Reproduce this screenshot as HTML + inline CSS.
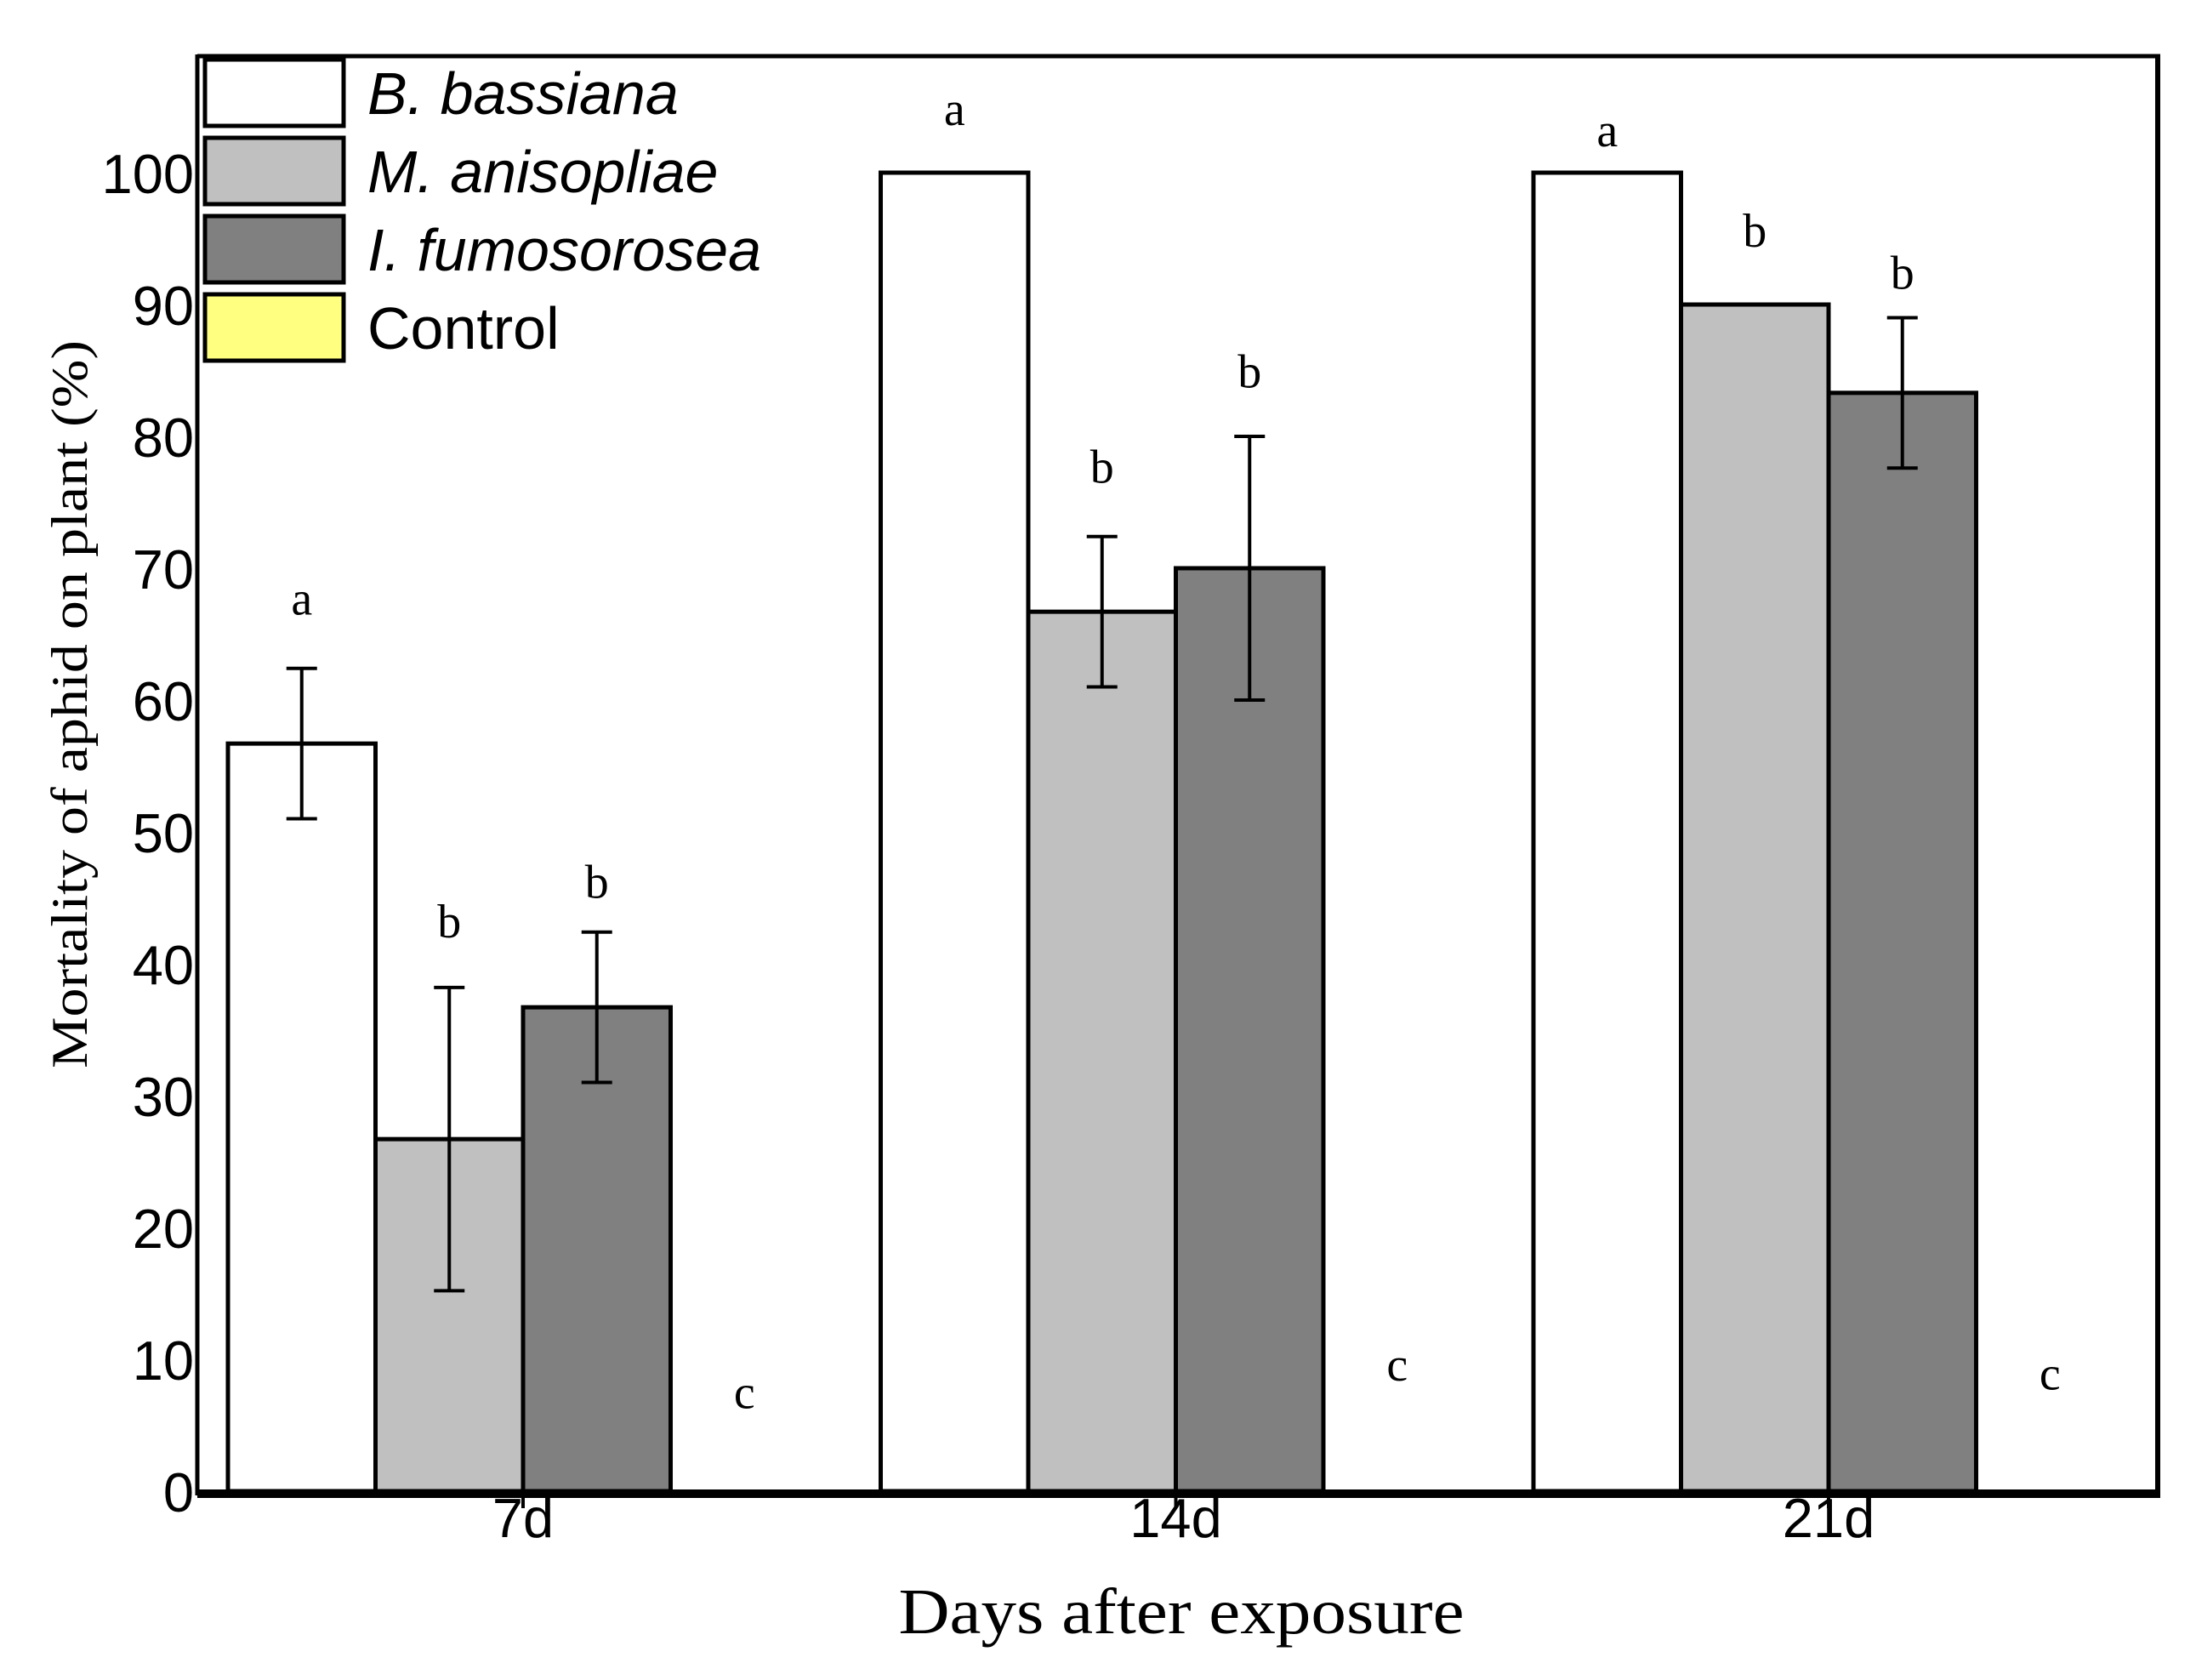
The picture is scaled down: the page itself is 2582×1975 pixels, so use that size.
<!DOCTYPE html>
<html><head><meta charset="utf-8"><style>
html,body{margin:0;padding:0;background:#fff;}
svg{display:block;}
</style></head><body>
<svg id="chart" xmlns="http://www.w3.org/2000/svg" width="2582" height="1975" viewBox="0 0 2582 1975">
<rect width="2582" height="1975" fill="#fff"/>
<g id="bars"></g>
<g id="axes"></g>
<g id="legend"></g>
</svg>
<script>
const categories = ["7d", "14d", "21d"];
const seriesNames = ["B. bassiana", "M. anisopliae", "I. fumosorosea", "Control"];
const bassiana = [56.7, 100, 100];
const anisopliae = [26.7, 66.7, 90];
const fumosorosea = [36.7, 70, 83.3];
const control = [0, 0, 0];
const errBassiana = [5.7, 0, 0];
const errAnisopliae = [11.5, 5.7, 0];
const errFumosorosea = [5.7, 10, 5.7];
const errControl = [0, 0, 0];
const lettersBassiana = ["a", "a", "a"];
const lettersAnisopliae = ["b", "b", "b"];
const lettersFumosorosea = ["b", "b", "b"];
const lettersControl = ["c", "c", "c"];
const letterPosBassiana = [66.5, 103.6, 102.0];
const letterPosAnisopliae = [42.0, 76.5, 94.4];
const letterPosFumosorosea = [45.0, 83.7, 91.2];
const letterPosControl = [6.3, 8.4, 7.7];
const yTicks = [0, 10, 20, 30, 40, 50, 60, 70, 80, 90, 100];

const NS = "http://www.w3.org/2000/svg";
const X0 = 232, X1 = 2540, Y0 = 1753, Y100 = 203, TOP = 66;
function y(v){ return Y0 - (Y0 - Y100) * v / 100; }
const GROUP_START = 268, GROUP_STEP = 767.5, BAR_W = 173.5;
function xBar(g, i){ return GROUP_START + g * GROUP_STEP + i * BAR_W; }
function mk(tag, attrs, parent){
  const e = document.createElementNS(NS, tag);
  for (const k in attrs) e.setAttribute(k, attrs[k]);
  parent.appendChild(e); return e;
}
const barsG = document.getElementById('bars');
const axesG = document.getElementById('axes');
const legG = document.getElementById('legend');
const values = [bassiana, anisopliae, fumosorosea, control];
const errs = [errBassiana, errAnisopliae, errFumosorosea, errControl];
const letters = [lettersBassiana, lettersAnisopliae, lettersFumosorosea, lettersControl];
const letterPos = [letterPosBassiana, letterPosAnisopliae, letterPosFumosorosea, letterPosControl];
const fills = ["#ffffff", "#c0c0c0", "#808080", "#ffff80"];
const keys = ["bassiana", "anisopliae", "fumosorosea", "control"];

for (let g = 0; g < categories.length; g++) {
  for (let s = 0; s < 4; s++) {
    const v = values[s][g];
    const xl = xBar(g, s);
    if (v > 0) {
      const r = mk('rect', {x: xl, y: y(v), width: BAR_W, height: y(0) - y(v), fill: fills[s], stroke: '#000', 'stroke-width': 5}, barsG);
      
      
    }
    const e = errs[s][g];
    const cx = xl + BAR_W / 2;
    if (e > 0) {
      const eg = mk('g', {stroke: '#000', 'stroke-width': 4}, barsG);
      
      
      mk('line', {x1: cx, x2: cx, y1: y(v + e), y2: y(v - e)}, eg);
      mk('line', {x1: cx - 18, x2: cx + 18, y1: y(v + e), y2: y(v + e)}, eg);
      mk('line', {x1: cx - 18, x2: cx + 18, y1: y(v - e), y2: y(v - e)}, eg);
    }
    const t = mk('text', {x: cx, y: y(letterPos[s][g]), 'text-anchor': 'middle', 'font-family': '"Liberation Serif", serif', 'font-size': 56, fill: '#000'}, barsG);
    t.textContent = letters[s][g];
    
    
  }
}

const frame = mk('g', {stroke: '#000', fill: 'none'}, axesG);


mk('line', {x1: X0, x2: X0, y1: TOP - 2, y2: Y0 + 5, 'stroke-width': 5}, frame);
mk('line', {x1: X0, x2: X1, y1: TOP, y2: TOP, 'stroke-width': 5}, frame);
mk('line', {x1: X1 - 3, x2: X1 - 3, y1: TOP, y2: Y0 + 5, 'stroke-width': 6}, frame);
mk('line', {x1: X0, x2: X1, y1: Y0 + 3, y2: Y0 + 3, 'stroke-width': 10}, frame);

for (const tv of yTicks) {
  const t = mk('text', {x: X0 - 4, y: y(tv) + 24, 'text-anchor': 'end', 'font-family': '"Liberation Sans", sans-serif', 'font-size': 65, fill: '#000'}, axesG);
  t.textContent = tv;
  
  
}
for (let g = 0; g < categories.length; g++) {
  const cx = xBar(g, 2);
  mk('line', {x1: cx, x2: cx, y1: Y0, y2: Y0 + 20, stroke: '#000', 'stroke-width': 4}, axesG);
  const t = mk('text', {x: cx, y: Y0 + 54, 'text-anchor': 'middle', 'font-family': '"Liberation Sans", sans-serif', 'font-size': 65, fill: '#000'}, axesG);
  t.textContent = categories[g];
  
  
}
const xt = mk('text', {x: 1389, y: 1920, 'text-anchor': 'middle', 'font-family': '"Liberation Serif", serif', 'font-size': 76, fill: '#000', textLength: 665, lengthAdjust: 'spacingAndGlyphs'}, axesG);
xt.textContent = 'Days after exposure';


const yt = mk('text', {x: 0, y: 0, 'text-anchor': 'middle', 'font-family': '"Liberation Serif", serif', 'font-size': 60, fill: '#000', textLength: 856, lengthAdjust: 'spacingAndGlyphs', transform: 'translate(102,828) rotate(-90)'}, axesG);
yt.textContent = 'Mortality of aphid on plant (%)';



const legY = [68, 160, 252, 344];
for (let s = 0; s < 4; s++) {
  const eg = mk('g', {}, legG);
  
  
  mk('rect', {x: 241, y: legY[s] + 2, width: 163, height: 78, fill: fills[s], stroke: '#000', 'stroke-width': 5}, eg);
  const t = mk('text', {x: 432, y: legY[s] + 66, 'font-family': '"Liberation Sans", sans-serif', 'font-size': 70, 'font-style': s < 3 ? 'italic' : 'normal', fill: '#000'}, eg);
  t.textContent = seriesNames[s];
}
</script>
</body></html>
